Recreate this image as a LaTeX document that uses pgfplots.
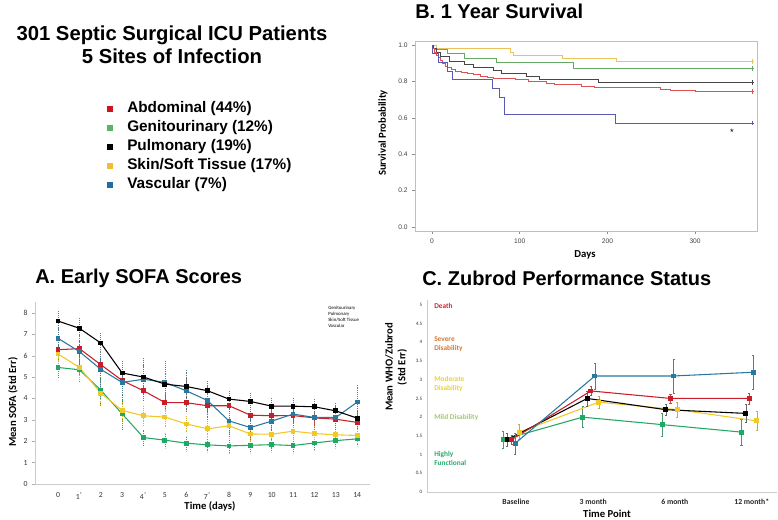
\documentclass[border=0pt]{standalone}
\usepackage{pgfplots}
\pgfplotsset{compat=1.18}
\usepackage{fontspec}
\setmainfont{Liberation Sans}
\newfontfamily\calfont{Carlito}
\definecolor{legRed}{RGB}{204,20,30}
\definecolor{legGreen}{RGB}{90,180,100}
\definecolor{legYellow}{RGB}{240,190,50}
\definecolor{legBlue}{RGB}{30,110,160}
\definecolor{kmYellow}{RGB}{235,195,90}
\definecolor{kmGreen}{RGB}{100,170,100}
\definecolor{kmBlack}{RGB}{70,70,70}
\definecolor{kmRed}{RGB}{225,80,80}
\definecolor{kmBlue}{RGB}{90,90,180}
\definecolor{sBlue}{RGB}{40,120,160}
\definecolor{sRed}{RGB}{200,30,40}
\definecolor{sYellow}{RGB}{240,200,40}
\definecolor{sGreen}{RGB}{30,170,100}
\definecolor{cDeath}{RGB}{200,40,50}
\definecolor{cSevere}{RGB}{210,120,60}
\definecolor{cModerate}{RGB}{235,210,50}
\definecolor{cMild}{RGB}{160,200,110}
\definecolor{cHigh}{RGB}{40,170,110}
\pgfplotsset{every axis/.append style={scale only axis, clip=false, /pgf/number format/assume math mode=true}}
\newcommand{\legitem}[3]{%
  \fill[#1] (79.9pt,#3-2.6pt) rectangle (85.1pt,#3+2.6pt);
  \node[anchor=west, inner sep=0pt, font=\fontsize{11.5}{13}\selectfont\bfseries] at (95.25pt,#3) {#2};}
\begin{document}
\begin{tikzpicture}
\path[use as bounding box] (0,0) rectangle (583.5pt,389.25pt);
% ---------- overall title and legend ----------
\node[align=center, font=\fontsize{15.2}{17.25}\selectfont\bfseries] at (129pt,355.5pt) {301 Septic Surgical ICU Patients\\5 Sites of Infection};
\legitem{legRed}{Abdominal (44\%)}{307.5pt}
\legitem{legGreen}{Genitourinary (12\%)}{293.25pt}
\legitem{black}{Pulmonary (19\%)}{279pt}
\legitem{legYellow}{Skin/Soft Tissue (17\%)}{264.75pt}
\legitem{legBlue}{Vascular (7\%)}{250.5pt}
% ---------- panel titles ----------
\node[anchor=west, inner sep=0pt, font=\fontsize{15}{17}\selectfont\bfseries] at (311.25pt,381pt) {B. 1 Year Survival};
\node[anchor=west, inner sep=0pt, font=\fontsize{15}{17}\selectfont\bfseries] at (26.25pt,180.75pt) {A. Early SOFA Scores};
\node[anchor=west, inner sep=0pt, font=\fontsize{15}{17}\selectfont\bfseries] at (316.5pt,180.75pt) {C. Zubrod Performance Status};
% ---------- axis labels ----------
\node[font=\calfont\fontsize{8}{9}\selectfont\bfseries] at (438.75pt,198pt) {Days};
\node[rotate=90, font=\calfont\fontsize{8}{9}\selectfont\bfseries] at (287.25pt,289.5pt) {Survival Probability};
\node[font=\calfont\fontsize{8}{9}\selectfont\bfseries] at (157.5pt,9.75pt) {Time (days)};
\node[rotate=90, font=\calfont\fontsize{8}{9}\selectfont\bfseries] at (9.75pt,87.75pt) {Mean SOFA (Std Err)};
\node[font=\calfont\fontsize{8}{9}\selectfont\bfseries] at (455.25pt,4pt) {Time Point};
\node[rotate=90, align=center, font=\calfont\fontsize{8}{9.5}\selectfont\bfseries] at (297pt,114pt) {Mean WHO/Zubrod\\(Std Err)};
% ---------- Panel C category labels ----------
\node[anchor=west, align=left, inner sep=0pt, text=cDeath, font=\calfont\fontsize{5.5}{6.75}\selectfont\bfseries] at (325.5pt,159.75pt) {Death};
\node[anchor=west, align=left, inner sep=0pt, text=cSevere, font=\calfont\fontsize{5.5}{6.75}\selectfont\bfseries] at (325.5pt,130.9pt) {Severe\\Disability};
\node[anchor=west, align=left, inner sep=0pt, text=cModerate, font=\calfont\fontsize{5.5}{6.75}\selectfont\bfseries] at (325.5pt,100.9pt) {Moderate\\Disability};
\node[anchor=west, align=left, inner sep=0pt, text=cMild, font=\calfont\fontsize{5.5}{6.75}\selectfont\bfseries] at (325.5pt,76.5pt) {Mild Disability};
\node[anchor=west, align=left, inner sep=0pt, text=cHigh, font=\calfont\fontsize{5.5}{6.75}\selectfont\bfseries] at (325.5pt,45.4pt) {Highly\\Functional};
% ---------- Panel A legend (cropped in original) ----------
\node[anchor=north west, align=left, inner sep=0pt, font=\calfont\fontsize{3.6}{4.6}\selectfont] at (246pt,160pt) {Genitourinary\\Pulmonary\\Skin/Soft Tissue\\Vascular};

% ================= Panel B =================
\begin{axis}[at={(311.25pt,216pt)}, anchor=south west, width=256.5pt, height=142.5pt,
  xmin=-19.4, xmax=370.6, ymin=-0.022, ymax=1.022,
  xtick={0,100,200,300}, ytick={0,0.2,0.4,0.6,0.8,1},
  yticklabel style={/pgf/number format/.cd, fixed, fixed zerofill, precision=1},
  axis line style={black!25}, tick style={black!45, line width=0.4pt},
  tick align=outside, major tick length=2pt, tick pos=left,
  ticklabel style={font=\fontsize{5}{5.5}\selectfont, text=black!75}]
\addplot[const plot, color=kmYellow, line width=0.6pt] coordinates {(0,1.0) (5,0.98) (89,0.962) (93,0.945) (149,0.927) (210,0.91) (365,0.91)};
\addplot[const plot, color=kmGreen, line width=0.6pt] coordinates {(0,1.0) (2,0.98) (4,0.975) (18,0.954) (37,0.927) (73,0.903) (161,0.873) (365,0.873)};
\addplot[const plot, color=kmBlack, line width=0.6pt] coordinates {(0,1.0) (2,0.98) (5,0.96) (9,0.935) (20,0.912) (37,0.895) (47,0.878) (70,0.86) (79,0.845) (108,0.83) (123,0.81) (190,0.795) (365,0.795)};
\addplot[const plot, color=kmRed, line width=0.6pt] coordinates {(0,1.0) (1,0.98) (3,0.96) (5,0.945) (7,0.93) (9,0.915) (12,0.9) (15,0.885) (18,0.875) (22,0.865) (27,0.857) (33,0.85) (40,0.843) (47,0.836) (55,0.828) (63,0.82) (70,0.815) (95,0.81) (110,0.8) (130,0.79) (140,0.785) (170,0.775) (185,0.765) (260,0.758) (272,0.748) (300,0.745) (365,0.745)};
\addplot[const plot, color=kmBlue, line width=0.6pt] coordinates {(0,1.0) (1,0.952) (7,0.905) (18,0.857) (23,0.81) (69,0.762) (77,0.714) (83,0.619) (209,0.571) (365,0.571)};
\addplot[only marks, mark=+, mark size=1.8pt, color=kmYellow] coordinates {(365,0.91)};
\addplot[only marks, mark=+, mark size=1.8pt, color=kmGreen] coordinates {(365,0.873)};
\addplot[only marks, mark=+, mark size=1.8pt, color=kmBlack] coordinates {(365,0.795)};
\addplot[only marks, mark=+, mark size=1.8pt, color=kmRed] coordinates {(365,0.745)};
\addplot[only marks, mark=+, mark size=1.8pt, color=kmBlue] coordinates {(365,0.571)};
\node[font=\fontsize{7}{7}\selectfont] at (axis cs:342,0.52) {*};
\end{axis}

% ================= Panel A =================
\begin{axis}[at={(26.25pt,26.25pt)}, anchor=south west, width=251.25pt, height=136.5pt,
  xmin=-1.08, xmax=14.6, ymin=0, ymax=8.51,
  axis x line*=bottom, axis y line*=left,
  axis line style={black!20, line width=0.7pt},
  xtick={0,...,14},
  xticklabels={0,1\textsuperscript{*},2,3,4\textsuperscript{*},5,6,7\textsuperscript{*},8,9,10,11,12,13,14},
  ytick={0,...,8},
  major x tick style={draw=none}, major y tick style={black!30},
  tick align=outside, major tick length=2pt,
  xticklabel style={yshift=-1pt},
  ticklabel style={font=\calfont\fontsize{5.8}{6}\selectfont, text=black!80}]
\addplot[color=sGreen, line width=0.8pt, mark=square*, mark size=1.4pt,
  error bars/.cd, y dir=both, y explicit, error mark=none, error bar style={densely dotted, line width=0.5pt, color=sGreen!60!gray}]
 coordinates {(0,5.45) +- (0,0.5) (1,5.34) +- (0,0.6) (2,4.39) +- (0,0.7) (3,3.28) +- (0,0.7) (4,2.17) +- (0,0.4) (5,2.05) +- (0,0.35) (6,1.91) +- (0,0.35) (7,1.83) +- (0,0.35) (8,1.78) +- (0,0.35) (9,1.81) +- (0,0.35) (10,1.84) +- (0,0.35) (11,1.8) +- (0,0.35) (12,1.92) +- (0,0.35) (13,2.03) +- (0,0.35) (14,2.11) +- (0,0.35)};
\addplot[color=sYellow, line width=0.8pt, mark=square*, mark size=1.4pt,
  error bars/.cd, y dir=both, y explicit, error mark=none, error bar style={densely dotted, line width=0.5pt, color=sYellow!70!gray}]
 coordinates {(0,6.08) +- (0,0.5) (1,5.45) +- (0,0.6) (2,4.25) +- (0,0.6) (3,3.44) +- (0,0.5) (4,3.19) +- (0,0.5) (5,3.13) +- (0,0.5) (6,2.81) +- (0,0.4) (7,2.58) +- (0,0.4) (8,2.72) +- (0,0.4) (9,2.34) +- (0,0.4) (10,2.33) +- (0,0.4) (11,2.47) +- (0,0.4) (12,2.36) +- (0,0.4) (13,2.3) +- (0,0.4) (14,2.27) +- (0,0.4)};
\addplot[color=sRed, line width=0.8pt, mark=square*, mark size=1.4pt,
  error bars/.cd, y dir=both, y explicit, error mark=none, error bar style={densely dotted, line width=0.5pt, color=sRed!60!gray}]
 coordinates {(0,6.28) +- (0,0.35) (1,6.33) +- (0,0.4) (2,5.58) +- (0,0.35) (3,4.84) +- (0,0.35) (4,4.36) +- (0,0.35) (5,3.81) +- (0,0.35) (6,3.8) +- (0,0.35) (7,3.66) +- (0,0.35) (8,3.66) +- (0,0.35) (9,3.22) +- (0,0.3) (10,3.19) +- (0,0.3) (11,3.2) +- (0,0.3) (12,3.09) +- (0,0.3) (13,3.03) +- (0,0.3) (14,2.88) +- (0,0.3)};
\addplot[color=sBlue, line width=0.8pt, mark=square*, mark size=1.4pt,
  error bars/.cd, y dir=both, y explicit, error mark=none, error bar style={densely dotted, line width=0.5pt, color=sBlue!60!gray}]
 coordinates {(0,6.81) +- (0,0.6) (1,6.19) +- (0,0.8) (2,5.36) +- (0,0.8) (3,4.75) +- (0,1.0) (4,4.9) +- (0,1.0) (5,4.75) +- (0,1.0) (6,4.36) +- (0,1.0) (7,3.9) +- (0,0.9) (8,2.95) +- (0,0.7) (9,2.64) +- (0,0.6) (10,2.94) +- (0,0.6) (11,3.27) +- (0,0.6) (12,3.11) +- (0,0.6) (13,3.11) +- (0,0.6) (14,3.83) +- (0,0.8)};
\addplot[color=black, line width=0.8pt, mark=square*, mark size=1.4pt,
  error bars/.cd, y dir=both, y explicit, error mark=none, error bar style={densely dotted, line width=0.5pt, color=black!55}]
 coordinates {(0,7.62) +- (0,0.5) (1,7.28) +- (0,0.5) (2,6.59) +- (0,0.5) (3,5.19) +- (0,0.5) (4,5.0) +- (0,0.6) (5,4.67) +- (0,0.5) (6,4.56) +- (0,0.5) (7,4.36) +- (0,0.5) (8,3.97) +- (0,0.4) (9,3.86) +- (0,0.4) (10,3.64) +- (0,0.4) (11,3.64) +- (0,0.4) (12,3.61) +- (0,0.4) (13,3.42) +- (0,0.4) (14,3.08) +- (0,0.4)};
\end{axis}

% ================= Panel C =================
\begin{axis}[at={(320.25pt,20.25pt)}, anchor=south west, width=262.5pt, height=144pt,
  xmin=-1.128, xmax=3.31, ymin=0, ymax=5.13,
  axis x line*=bottom, axis y line*=left,
  axis line style={black!20, line width=0.7pt},
  xtick={0,0.98,2.015,2.99},
  xticklabels={Baseline,3 month,6 month,12 month*},
  ytick={0,0.5,1,1.5,2,2.5,3,3.5,4,4.5,5},
  major tick style={draw=none},
  xticklabel style={font=\calfont\fontsize{5.8}{6}\selectfont\bfseries, text=black!85, yshift=-2pt},
  yticklabel style={font=\calfont\fontsize{3.8}{4}\selectfont, text=black!80}]
\addplot[color=sGreen, line width=0.8pt, mark=square*, mark size=1.4pt,
  error bars/.cd, y dir=both, y explicit, error bar style={line width=0.3pt, color=sGreen!50!gray}, error mark options={rotate=90, mark size=0.8pt}]
 coordinates {(-0.16,1.4) +- (0,0.22) (0.845,2.0) +- (0,0.28) (1.855,1.8) +- (0,0.3) (2.86,1.6) +- (0,0.35)};
\addplot[color=sYellow, line width=0.8pt, mark=square*, mark size=1.4pt,
  error bars/.cd, y dir=both, y explicit, error bar style={line width=0.3pt, color=sYellow!60!gray}, error mark options={rotate=90, mark size=0.8pt}]
 coordinates {(0.04,1.6) +- (0,0.2) (1.05,2.4) +- (0,0.15) (2.045,2.2) +- (0,0.2) (3.055,1.9) +- (0,0.25)};
\addplot[color=black, line width=0.8pt, mark=square*, mark size=1.4pt,
  error bars/.cd, y dir=both, y explicit, error bar style={line width=0.3pt, color=black!60}, error mark options={rotate=90, mark size=0.8pt}]
 coordinates {(-0.11,1.4) +- (0,0.18) (0.904,2.5) +- (0,0.2) (1.9,2.2) +- (0,0.15) (2.915,2.1) +- (0,0.25)};
\addplot[color=sRed, line width=0.8pt, mark=square*, mark size=1.4pt,
  error bars/.cd, y dir=both, y explicit, error bar style={line width=0.3pt, color=sRed!50!gray}, error mark options={rotate=90, mark size=0.8pt}]
 coordinates {(-0.055,1.4) +- (0,0.12) (0.95,2.7) +- (0,0.12) (1.96,2.5) +- (0,0.12) (2.96,2.5) +- (0,0.15)};
\addplot[color=sBlue, line width=0.8pt, mark=square*, mark size=1.4pt,
  error bars/.cd, y dir=both, y explicit, error bar style={line width=0.3pt, color=sBlue!50!gray}, error mark options={rotate=90, mark size=0.8pt}]
 coordinates {(-0.01,1.3) +- (0,0.28) (1.0,3.1) +- (0,0.35) (2.0,3.1) +- (0,0.45) (3.01,3.2) +- (0,0.45)};
\end{axis}
\end{tikzpicture}
\end{document}
